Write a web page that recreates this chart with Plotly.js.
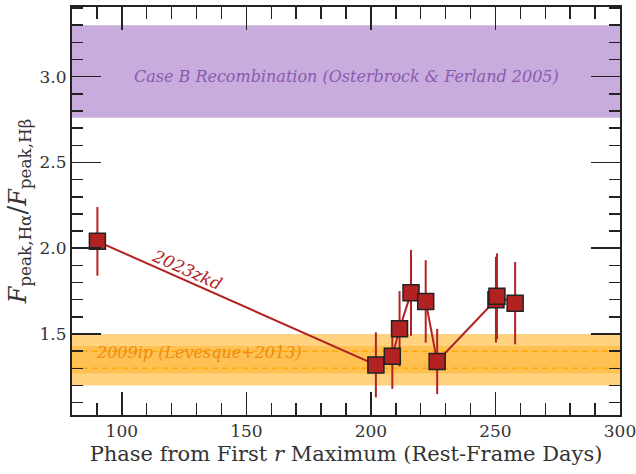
<!DOCTYPE html>
<html>
<head>
<meta charset="utf-8">
<script src="https://cdn.plot.ly/plotly-3.0.1.min.js"></script>
<style>html,body{margin:0;padding:0;background:#fff;}#plot{width:636px;height:474px;}</style>
</head>
<body>
<div id="plot"></div>
<script>
// Data
const phase = [90.2, 202.0, 208.6, 211.5, 216.1, 222.0, 226.6, 250.2, 250.6, 257.9];
const ratio = [2.04, 1.32, 1.37, 1.53, 1.74, 1.69, 1.34, 1.70, 1.72, 1.68];
const ratioErr = [0.20, 0.19, 0.19, 0.22, 0.25, 0.24, 0.19, 0.25, 0.25, 0.24];

const caseBLow = 2.76, caseBHigh = 3.30;
const ip2009OuterLow = 1.20, ip2009OuterHigh = 1.50;
const ip2009InnerLow = 1.27, ip2009InnerHigh = 1.43;
const ip2009Dashed = [1.30, 1.40];

const xRange = [80, 300];
const yRange = [1.028, 3.406];
const xTickVals = [100, 150, 200, 250, 300];
const yTickVals = [1.5, 2.0, 2.5, 3.0];
const yTickText = ['1.5', '2.0', '2.5', '3.0'];

const serif = 'DejaVu Serif';
const red = '#b22222';

const trace = {
  x: phase, y: ratio,
  mode: 'lines+markers',
  type: 'scatter',
  line: {color: red, width: 2},
  marker: {symbol: 'square', size: 16, color: red, line: {color: '#222', width: 1.5}},
  error_y: {type: 'data', array: ratioErr, visible: true, color: red, thickness: 2, width: 0},
  hoverinfo: 'none', showlegend: false
};

const shapes = [
  {type: 'rect', xref: 'paper', yref: 'y', x0: 0, x1: 1, y0: caseBLow, y1: caseBHigh,
   fillcolor: 'rgba(145,90,190,0.5)', line: {width: 0}, layer: 'below'},
  {type: 'rect', xref: 'paper', yref: 'y', x0: 0, x1: 1, y0: ip2009OuterLow, y1: ip2009OuterHigh,
   fillcolor: 'rgba(255,165,0,0.5)', line: {width: 0}, layer: 'below'},
  {type: 'rect', xref: 'paper', yref: 'y', x0: 0, x1: 1, y0: ip2009InnerLow, y1: ip2009InnerHigh,
   fillcolor: 'rgba(255,165,0,0.35)', line: {width: 0}, layer: 'below'}
];
ip2009Dashed.forEach(v => shapes.push({type: 'line', xref: 'paper', yref: 'y', x0: 0, x1: 1, y0: v, y1: v,
  line: {color: 'rgba(255,165,0,0.9)', width: 1.5, dash: '6px,4px'}, layer: 'below'}));

const layout = {
  width: 636, height: 474,
  margin: {l: 72, r: 16, t: 7, b: 59},
  paper_bgcolor: '#fff', plot_bgcolor: '#fff',
  font: {family: serif, color: '#222', size: 17},
  xaxis: {
    range: xRange, tickvals: xTickVals, ticks: 'inside', ticklen: 23, tickwidth: 1.5, tickcolor: '#222',
    showline: true, linecolor: '#222', linewidth: 2, mirror: 'allticks', showgrid: false, zeroline: false,
    ticklabeloverflow: 'allow',
    minor: {dtick: 10, tick0: 0, ticks: 'inside', ticklen: 12, tickwidth: 1.5, tickcolor: '#222', showgrid: false},
    tickfont: {family: serif, size: 17, color: '#333'},
    title: {text: 'Phase from First <i>r</i> Maximum (Rest-Frame Days)', font: {family: serif, size: 21, color: '#333'}, standoff: 6}
  },
  yaxis: {
    range: yRange, tickvals: yTickVals, ticktext: yTickText, ticks: 'inside', ticklen: 29, tickwidth: 1.5, tickcolor: '#222',
    showline: true, linecolor: '#222', linewidth: 2, mirror: 'allticks', showgrid: false, zeroline: false,
    ticklabeloverflow: 'allow',
    minor: {dtick: 0.1, tick0: 0, ticks: 'inside', ticklen: 11, tickwidth: 1.5, tickcolor: '#222', showgrid: false},
    tickfont: {family: serif, size: 17, color: '#333'},
    title: {text: '<i>F</i><sub>peak,Hα</sub><span style="font-size:26px">/</span><i>F</i><sub>peak,Hβ</sub>', font: {family: serif, size: 24, color: '#333'}, standoff: 6}
  },
  shapes: shapes,
  annotations: [
    {x: 190, y: 3.0, xref: 'x', yref: 'y', text: '<i>Case B Recombination (Osterbrock &amp; Ferland 2005)</i>',
     showarrow: false, font: {family: serif, size: 16, color: '#8a5aad'}},
    {x: 131, y: 1.395, xref: 'x', yref: 'y', text: '<i>2009ip (Levesque+2013)</i>',
     showarrow: false, font: {family: serif, size: 16, color: '#f08a10'}},
    {x: 126.5, y: 1.875, xref: 'x', yref: 'y', text: '<i>2023zkd</i>', textangle: 24,
     showarrow: false, font: {family: serif, size: 17, color: red}}
  ]
};

Plotly.newPlot('plot', [trace], layout, {displayModeBar: false, staticPlot: true});
</script>
</body>
</html>
